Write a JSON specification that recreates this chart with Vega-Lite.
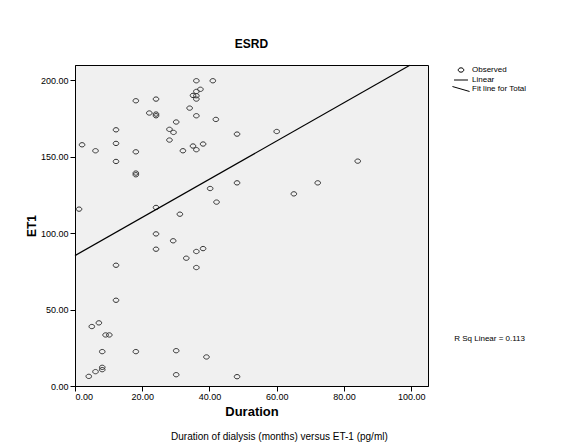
{
  "$schema": "https://vega.github.io/schema/vega-lite/v6.json",
  "width": 353,
  "height": 321,
  "autosize": {"type": "none"},
  "padding": {"left": 75, "top": 65, "right": 139, "bottom": 60},
  "background": "white",
  "title": {"text": "ESRD", "font": "Liberation Sans", "fontSize": 12, "fontWeight": "bold", "color": "#000", "offset": 12, "anchor": "middle"},
  "config": {
    "view": {"fill": "#f0f0f0", "stroke": "#000", "strokeWidth": 1},
    "font": "Liberation Sans",
    "axis": {"grid": false, "domainColor": "#000", "tickColor": "#000", "labelColor": "#000", "titleColor": "#000", "labelFont": "Liberation Sans", "titleFont": "Liberation Sans", "labelFontSize": 9, "tickSize": 5}
  },
  "layer": [
    {
      "data": {"values": [
        {"duration": 1.2, "et1": 115.7, "series": "Observed"},
        {"duration": 2.1, "et1": 157.8, "series": "Observed"},
        {"duration": 4.1, "et1": 6.3, "series": "Observed"},
        {"duration": 5.0, "et1": 38.9, "series": "Observed"},
        {"duration": 6.1, "et1": 153.9, "series": "Observed"},
        {"duration": 6.1, "et1": 9.4, "series": "Observed"},
        {"duration": 7.1, "et1": 41.3, "series": "Observed"},
        {"duration": 8.1, "et1": 22.5, "series": "Observed"},
        {"duration": 8.1, "et1": 12.2, "series": "Observed"},
        {"duration": 8.1, "et1": 10.7, "series": "Observed"},
        {"duration": 9.1, "et1": 33.4, "series": "Observed"},
        {"duration": 10.2, "et1": 33.4, "series": "Observed"},
        {"duration": 12.2, "et1": 167.6, "series": "Observed"},
        {"duration": 12.2, "et1": 158.7, "series": "Observed"},
        {"duration": 12.2, "et1": 146.9, "series": "Observed"},
        {"duration": 12.2, "et1": 79.0, "series": "Observed"},
        {"duration": 12.2, "et1": 56.1, "series": "Observed"},
        {"duration": 18.1, "et1": 186.6, "series": "Observed"},
        {"duration": 18.1, "et1": 153.2, "series": "Observed"},
        {"duration": 18.1, "et1": 139.3, "series": "Observed"},
        {"duration": 18.1, "et1": 138.2, "series": "Observed"},
        {"duration": 18.1, "et1": 22.5, "series": "Observed"},
        {"duration": 22.1, "et1": 178.6, "series": "Observed"},
        {"duration": 24.1, "et1": 187.7, "series": "Observed"},
        {"duration": 24.1, "et1": 177.9, "series": "Observed"},
        {"duration": 24.1, "et1": 176.8, "series": "Observed"},
        {"duration": 24.1, "et1": 116.8, "series": "Observed"},
        {"duration": 24.1, "et1": 99.5, "series": "Observed"},
        {"duration": 24.1, "et1": 89.5, "series": "Observed"},
        {"duration": 28.1, "et1": 167.9, "series": "Observed"},
        {"duration": 28.1, "et1": 160.9, "series": "Observed"},
        {"duration": 29.3, "et1": 165.9, "series": "Observed"},
        {"duration": 29.2, "et1": 95.0, "series": "Observed"},
        {"duration": 30.1, "et1": 172.7, "series": "Observed"},
        {"duration": 30.1, "et1": 23.1, "series": "Observed"},
        {"duration": 30.1, "et1": 7.4, "series": "Observed"},
        {"duration": 31.2, "et1": 112.4, "series": "Observed"},
        {"duration": 32.1, "et1": 153.9, "series": "Observed"},
        {"duration": 33.1, "et1": 83.6, "series": "Observed"},
        {"duration": 34.1, "et1": 181.8, "series": "Observed"},
        {"duration": 35.1, "et1": 190.1, "series": "Observed"},
        {"duration": 35.1, "et1": 157.0, "series": "Observed"},
        {"duration": 36.1, "et1": 199.7, "series": "Observed"},
        {"duration": 36.1, "et1": 192.7, "series": "Observed"},
        {"duration": 36.1, "et1": 189.9, "series": "Observed"},
        {"duration": 36.1, "et1": 187.7, "series": "Observed"},
        {"duration": 36.1, "et1": 176.8, "series": "Observed"},
        {"duration": 36.1, "et1": 154.6, "series": "Observed"},
        {"duration": 36.1, "et1": 88.0, "series": "Observed"},
        {"duration": 36.1, "et1": 77.5, "series": "Observed"},
        {"duration": 37.3, "et1": 194.1, "series": "Observed"},
        {"duration": 38.1, "et1": 158.3, "series": "Observed"},
        {"duration": 38.1, "et1": 89.9, "series": "Observed"},
        {"duration": 39.1, "et1": 19.0, "series": "Observed"},
        {"duration": 40.2, "et1": 129.2, "series": "Observed"},
        {"duration": 41.0, "et1": 199.7, "series": "Observed"},
        {"duration": 41.9, "et1": 174.4, "series": "Observed"},
        {"duration": 42.1, "et1": 120.3, "series": "Observed"},
        {"duration": 48.2, "et1": 164.8, "series": "Observed"},
        {"duration": 48.2, "et1": 132.9, "series": "Observed"},
        {"duration": 48.2, "et1": 6.1, "series": "Observed"},
        {"duration": 60.0, "et1": 166.5, "series": "Observed"},
        {"duration": 65.1, "et1": 125.7, "series": "Observed"},
        {"duration": 72.2, "et1": 132.9, "series": "Observed"},
        {"duration": 84.1, "et1": 147.1, "series": "Observed"}
      ]},
      "mark": {"type": "point", "filled": false, "stroke": "#333", "strokeWidth": 1, "size": 81, "opacity": 1},
      "encoding": {
        "x": {"field": "duration", "type": "quantitative",
              "scale": {"domain": [0, 105], "nice": false, "zero": false},
              "axis": {"values": [0, 20, 40, 60, 80, 100], "format": ".2f", "title": "Duration", "titleFontSize": 13, "titleFontWeight": "bold", "titlePadding": 4, "labelPadding": 1}},
        "y": {"field": "et1", "type": "quantitative",
              "scale": {"domain": [0, 210], "nice": false, "zero": false},
              "axis": {"values": [0, 50, 100, 150, 200], "format": ".2f", "title": "ET1", "titleFontSize": 12, "titleFontWeight": "bold", "titlePadding": 2, "labelPadding": 2}},
        "shape": {"field": "series", "type": "nominal",
                  "scale": {"domain": ["Observed", "Linear", "Fit line for Total"],
                            "range": ["M-0.62,0A0.62,0.48 0 1,0 0.62,0A0.62,0.48 0 1,0 -0.62,0Z", "M-1.55,0H1.55", "M-1.9,-0.55L1.9,0.55"]},
                  "legend": {"title": null, "orient": "right", "offset": 28, "labelFontSize": 8, "labelColor": "#000", "labelFont": "Liberation Sans", "symbolSize": 81, "symbolStrokeColor": "#000", "symbolFillColor": "transparent", "symbolStrokeWidth": 1, "labelOffset": 6, "rowPadding": 0, "padding": 0}}
      }
    },
    {
      "data": {"values": [
        {"duration": 0, "et1": 85.3},
        {"duration": 99.6, "et1": 209.8}
      ]},
      "mark": {"type": "line", "color": "#000", "strokeWidth": 1.2},
      "encoding": {
        "x": {"field": "duration", "type": "quantitative"},
        "y": {"field": "et1", "type": "quantitative"}
      }
    },
    {
      "data": {"values": [{"note": "R Sq Linear = 0.113"}]},
      "mark": {"type": "text", "align": "left", "baseline": "middle", "fontSize": 8, "color": "#000", "font": "Liberation Sans", "clip": false},
      "encoding": {
        "text": {"field": "note"},
        "x": {"datum": 112.8, "type": "quantitative"},
        "y": {"datum": 30.8, "type": "quantitative"}
      }
    },
    {
      "data": {"values": [{"note": "Duration  of dialysis (months) versus ET-1 (pg/ml)"}]},
      "mark": {"type": "text", "align": "center", "baseline": "middle", "fontSize": 10, "color": "#000", "font": "Liberation Sans", "clip": false},
      "encoding": {
        "text": {"field": "note"},
        "x": {"datum": 60.8, "type": "quantitative"},
        "y": {"datum": -33.4, "type": "quantitative"}
      }
    }
  ]
}
